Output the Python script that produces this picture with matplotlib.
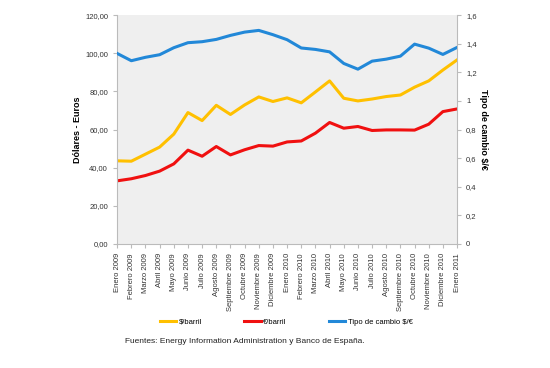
import matplotlib.pyplot as plt
import numpy as np

meses = ["Enero 2009", "Febrero 2009", "Marzo 2009", "Abril 2009", "Mayo 2009",
         "Junio 2009", "Julio 2009", "Agosto 2009", "Septiembre 2009", "Octubre 2009",
         "Noviembre 2009", "Diciembre 2009", "Enero 2010", "Febrero 2010", "Marzo 2010",
         "Abril 2010", "Mayo 2010", "Junio 2010", "Julio 2010", "Agosto 2010",
         "Septiembre 2010", "Octubre 2010", "Noviembre 2010", "Diciembre 2010", "Enero 2011"]

dolar_barril = [43.6, 43.4, 47.1, 50.8, 57.6, 68.9, 64.7, 72.7, 67.9, 72.9,
                77.1, 74.7, 76.6, 74.0, 79.7, 85.5, 76.4, 75.0, 76.0, 77.3,
                78.1, 82.2, 85.5, 91.2, 96.5]
euro_barril = [33.1, 34.2, 35.9, 38.2, 42.0, 49.2, 46.0, 51.1, 46.7, 49.4,
               51.6, 51.3, 53.5, 54.0, 58.1, 63.7, 60.7, 61.6, 59.5, 59.8,
               59.8, 59.7, 62.8, 69.4, 70.8]
tipo_cambio = [1.332, 1.281, 1.305, 1.323, 1.372, 1.407, 1.414, 1.430, 1.458, 1.481,
               1.493, 1.463, 1.428, 1.370, 1.360, 1.343, 1.262, 1.222, 1.278, 1.292,
               1.313, 1.397, 1.369, 1.325, 1.374]

plt.rcParams['font.family'] = ['Liberation Sans', 'DejaVu Sans']

fig = plt.figure(figsize=(5.5, 3.68), dpi=100)
ax = fig.add_axes([0.213, 0.337, 0.618, 0.622])
ax.set_facecolor('#efefef')
x = np.arange(len(meses))

l1, = ax.plot(x, dolar_barril, color='#FFC000', linewidth=2.2, label='$/barril')
l2, = ax.plot(x, euro_barril, color='#F01010', linewidth=2.2, label='€/barril')
ax.set_xlim(0, len(meses) - 1)
ax.set_ylim(0, 120)
ax.set_yticks(np.arange(0, 121, 20))
ax.set_yticklabels([f"{v:.2f}".replace('.', ',') for v in np.arange(0, 121, 20)])
ax.set_xticks(x)
ax.set_xticklabels(meses, rotation=90)
ax.set_ylabel("Dólares - Euros", fontsize=6.5, fontweight='bold', labelpad=2)

ax2 = ax.twinx()
l3, = ax2.plot(x, tipo_cambio, color='#2288D8', linewidth=2.2, label='Tipo de cambio $/€')
ax2.set_ylim(0, 1.6)
rt = np.arange(0, 1.61, 0.2)
ax2.set_yticks(rt)
ax2.set_yticklabels(["0", "0,2", "0,4", "0,6", "0,8", "1", "1,2", "1,4", "1,6"])
ax2.set_ylabel("Tipo de cambio $/€", fontsize=6.5, fontweight='bold', rotation=270, labelpad=8)

for a in (ax, ax2):
    for s in a.spines.values():
        s.set_visible(False)
    a.tick_params(labelsize=5.5, colors='#333333', length=3, color='#bbbbbb', width=0.8)
ax.spines['left'].set_visible(True)
ax.spines['bottom'].set_visible(True)
ax2.spines['right'].set_visible(True)
for s in (ax.spines['left'], ax.spines['bottom'], ax2.spines['right']):
    s.set_color('#bbbbbb')
    s.set_linewidth(0.8)

fig.legend(handles=[l1, l2, l3], loc='center', bbox_to_anchor=(0.52, 0.125), ncol=3,
           frameon=False, fontsize=5.5, handlelength=2.2, handletextpad=0.3,
           columnspacing=5.5)
fig.text(0.227, 0.071, "Fuentes: Energy Information Administration y Banco de España.",
         fontsize=6, color='#222222', va='center')

fig.savefig('out.png', dpi=100)
